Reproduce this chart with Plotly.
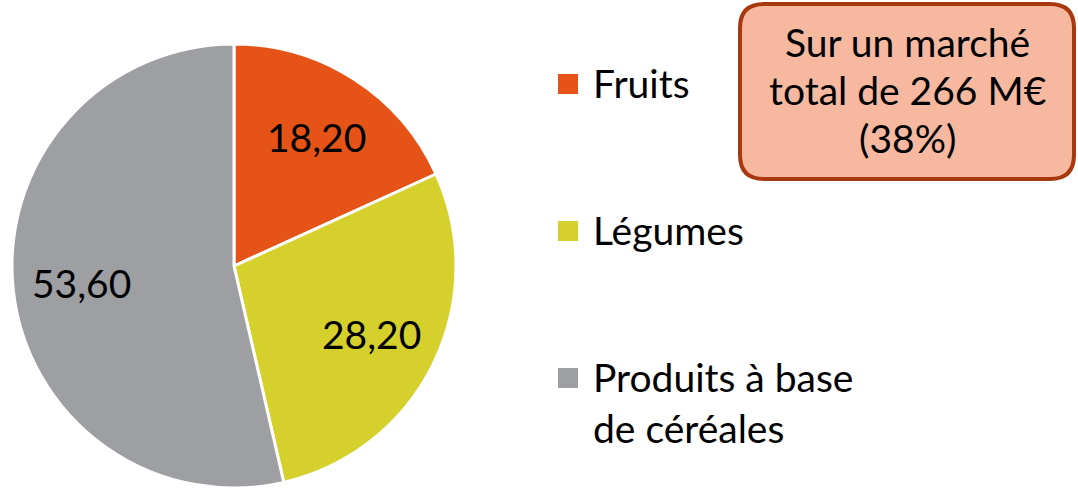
import math
import plotly.graph_objects as go

W, H = 1078, 492

categories = ["Fruits", "Légumes", "Produits à base<br>de céréales"]
values = [18.20, 28.20, 53.60]
colors = ["#E65316", "#D5D02B", "#9E9FA2"]
box_lines = ["Sur un marché", "total de 266 M€", "(38%)"]


def px_x(x):
    return x / W


def px_y(y):
    return 1 - y / H


FONT = "Lato"
SIZE = 39

# pie position in pixels
cx, cy, R = 234, 266, 222

fig = go.Figure()
fig.add_trace(go.Pie(
    labels=categories,
    values=values,
    marker=dict(colors=colors, line=dict(color="white", width=3)),
    sort=False,
    direction="clockwise",
    rotation=0,
    textinfo="none",
    domain=dict(x=[px_x(cx - R), px_x(cx + R)], y=[px_y(cy + R), px_y(cy - R)]),
    showlegend=False,
    hoverinfo="label+value",
))

# data labels, Excel style (further out than plotly's inside text)
total = sum(values)
start = 0
for v in values:
    mid = (start + v / 2) / total * 2 * math.pi
    start += v
    lx = cx + 0.69 * R * math.sin(mid)
    ly = cy - 0.69 * R * math.cos(mid)
    fig.add_annotation(x=px_x(lx), y=px_y(ly), xref="paper", yref="paper",
                       text=f"{v:.2f}".replace(".", ","), showarrow=False,
                       xanchor="center", yanchor="middle",
                       font=dict(family=FONT, size=SIZE, color="black"))

# legend drawn by hand, items far apart like in the original
legend_y = [84, 231, 378]
for name, col, y in zip(categories, colors, legend_y):
    fig.add_shape(type="rect", xref="paper", yref="paper",
                  x0=px_x(558), x1=px_x(578), y0=px_y(y + 10), y1=px_y(y - 10),
                  fillcolor=col, line=dict(width=0))
    fig.add_annotation(x=px_x(591), y=px_y(y - 26), xref="paper", yref="paper",
                       text=name, showarrow=False, xanchor="left", yanchor="top",
                       align="left", font=dict(family=FONT, size=SIZE, color="black"))

# rounded box
x0, x1, y0, y1, r = 740, 1074, 4, 179, 24
pts = (f"M {px_x(x0 + r)},{px_y(y0)} L {px_x(x1 - r)},{px_y(y0)} "
       f"Q {px_x(x1)},{px_y(y0)} {px_x(x1)},{px_y(y0 + r)} "
       f"L {px_x(x1)},{px_y(y1 - r)} Q {px_x(x1)},{px_y(y1)} {px_x(x1 - r)},{px_y(y1)} "
       f"L {px_x(x0 + r)},{px_y(y1)} Q {px_x(x0)},{px_y(y1)} {px_x(x0)},{px_y(y1 - r)} "
       f"L {px_x(x0)},{px_y(y0 + r)} Q {px_x(x0)},{px_y(y0)} {px_x(x0 + r)},{px_y(y0)} Z")
fig.add_shape(type="path", xref="paper", yref="paper", path=pts,
              fillcolor="#F6B9A0", line=dict(color="#A8380E", width=4))
for i, line in enumerate(box_lines):
    fig.add_annotation(x=px_x(907), y=px_y(42 + 48 * i), xref="paper", yref="paper",
                       text=line, showarrow=False, xanchor="center", yanchor="middle",
                       font=dict(family=FONT, size=SIZE, color="black"))

fig.update_layout(
    width=W, height=H,
    margin=dict(l=0, r=0, t=0, b=0),
    paper_bgcolor="white",
    plot_bgcolor="white",
    font=dict(family=FONT),
)

# drop the default 8px body margin of the page
fig.write_html("out.html", config={"displayModeBar": False},
               post_script="document.body.style.margin='0';")
